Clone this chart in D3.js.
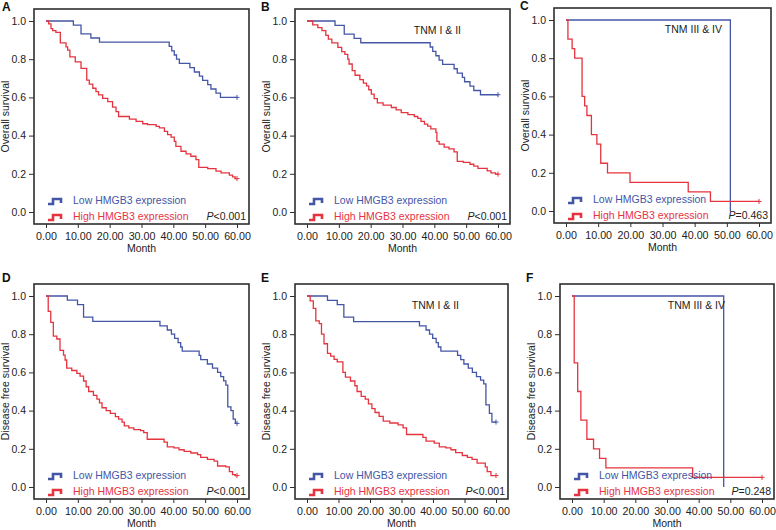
<!DOCTYPE html>
<html>
<head>
<meta charset="utf-8">
<script src="https://cdn.jsdelivr.net/npm/d3@7"></script>
<style>
  body { margin: 0; background: #fff; }
  svg text { font-family: "Liberation Sans", Arial, sans-serif; }
</style>
</head>
<body>
<div id="chart"></div>
<script>
// months on the x axis, survival fraction on y
var monthTicks = [0, 10, 20, 30, 40, 50, 60];
var survTicks = [0, 0.2, 0.4, 0.6, 0.8, 1.0];

var panelLetters = ["A", "B", "C", "D", "E", "F"];
var yTitles = ["Overall survival", "Overall survival", "Overall survival",
	"Disease free survival", "Disease free survival", "Disease free survival"];
var stageLabels = ["", "TNM I & II", "TNM III & IV", "", "TNM I & II", "TNM III & IV"];
var pLabels = ["<0.001", "<0.001", "=0.463", "<0.001", "<0.001", "=0.248"];
var legendLabels = ["Low HMGB3 expression", "High HMGB3 expression"];

// [month, survival after the step]
var lowA = [[0,1],[8.6,0.978],[11,0.933],[14.1,0.911],[16.8,0.889],[38.7,0.867],[39.5,0.844],[40.3,0.822],[41,0.8],[41.9,0.778],[45.2,0.756],[46.6,0.733],[48.2,0.711],[49.2,0.689],[50.8,0.667],[51.8,0.644],[53.4,0.622],[54.8,0.6],[60,0.6]];
var highA = [[0,1],[0.84,0.985],[1.57,0.96],[2.1,0.95],[3.1,0.94],[4.5,0.885],[6.3,0.865],[6.8,0.847],[7.5,0.812],[9.2,0.786],[11,0.752],[12.8,0.69],[13.6,0.67],[14.7,0.648],[15.7,0.63],[16.5,0.613],[17.8,0.595],[19.4,0.578],[20.9,0.549],[22,0.526],[22.8,0.5],[26.2,0.486],[28.3,0.474],[30.4,0.462],[31.9,0.457],[34.6,0.448],[35.6,0.44],[37.2,0.422],[38.2,0.405],[39.3,0.392],[40.3,0.37],[40.8,0.344],[42.4,0.318],[44,0.304],[45.5,0.292],[47.1,0.274],[48,0.234],[50.8,0.227],[53.4,0.214],[55,0.205],[57.6,0.193],[58.6,0.184],[59.4,0.175],[60,0.175]];
var lowB = [[0,1],[8.8,0.977],[11.7,0.931],[14.8,0.909],[16.9,0.886],[38.7,0.864],[39.5,0.841],[40.5,0.818],[41.5,0.795],[42.6,0.773],[46.2,0.75],[47.2,0.727],[48.8,0.705],[49.5,0.682],[51.2,0.659],[52.4,0.636],[54.5,0.614],[60,0.614]];
var highB = [[0,1],[1.8,0.98],[3.4,0.965],[4.7,0.95],[5.9,0.925],[6.7,0.905],[7.8,0.885],[9.7,0.862],[10.9,0.84],[11.9,0.825],[12.8,0.8],[13.2,0.775],[14.2,0.74],[15.1,0.716],[16.6,0.693],[17.7,0.675],[18.7,0.66],[19.4,0.64],[20.2,0.617],[21.1,0.594],[22.1,0.571],[23.9,0.56],[26.5,0.547],[28,0.535],[29.6,0.52],[31.7,0.51],[33.7,0.5],[34.8,0.49],[35.8,0.475],[36.9,0.46],[37.9,0.45],[38.9,0.435],[40.5,0.417],[40.8,0.37],[41.5,0.355],[43.1,0.34],[44.6,0.33],[46.2,0.315],[47.2,0.265],[49.1,0.26],[51.2,0.25],[52.4,0.24],[53.7,0.228],[56.6,0.215],[57.8,0.205],[59.2,0.198],[60,0.198]];
var lowC = [[0,1],[51.1,0]];
var highC = [[0,1],[0.6,0.9],[1.9,0.85],[2.7,0.8],[5,0.6],[5.8,0.55],[6.5,0.5],[7.9,0.4],[9.6,0.35],[10.8,0.25],[12.9,0.2],[19.9,0.15],[38,0.1],[44.9,0.05],[60,0.05]];
var lowD = [[0,1],[6.7,0.978],[9.9,0.955],[11.8,0.889],[14.7,0.867],[35.8,0.844],[38.1,0.822],[39.4,0.8],[40.4,0.778],[41.5,0.756],[42.3,0.733],[42.8,0.711],[48.1,0.689],[48.6,0.667],[50.7,0.644],[52.3,0.622],[53.9,0.6],[54.9,0.578],[55.8,0.556],[56.5,0.533],[57.1,0.42],[58.1,0.4],[58.8,0.355],[59.5,0.333],[60,0.333]];
var highD = [[0,1],[0.7,0.92],[1.5,0.862],[2.3,0.79],[3.4,0.775],[4.4,0.715],[5.5,0.69],[6,0.665],[6.5,0.622],[8.1,0.61],[9.7,0.595],[10.7,0.58],[11.8,0.555],[12.6,0.525],[13.4,0.5],[14.9,0.48],[16,0.46],[16.8,0.44],[17.6,0.415],[18.9,0.4],[20.2,0.385],[21.8,0.368],[22.8,0.355],[23.9,0.34],[24.6,0.32],[26,0.31],[27.6,0.3],[29.7,0.295],[30.7,0.285],[31.8,0.25],[37.1,0.235],[38.1,0.21],[40.2,0.205],[41.8,0.195],[43.4,0.187],[45.5,0.178],[47.6,0.17],[48.6,0.155],[50.7,0.145],[52.8,0.135],[53.9,0.11],[56.5,0.105],[57.6,0.08],[58.6,0.065],[59.5,0.06],[60,0.06]];
var lowE = [[0,1],[6.5,0.977],[9.6,0.955],[11.7,0.889],[14.8,0.866],[35.7,0.844],[37.8,0.822],[38.9,0.8],[39.9,0.778],[41,0.756],[41.7,0.733],[42.5,0.711],[47.8,0.689],[48.8,0.667],[49.8,0.644],[51.2,0.622],[52.5,0.6],[53.8,0.578],[55.1,0.56],[56.1,0.54],[56.8,0.43],[57.9,0.385],[58.7,0.34],[60,0.34]];
var highE = [[0,1],[1,0.975],[2,0.935],[2.8,0.87],[3.9,0.855],[4.6,0.8],[5.4,0.75],[6.5,0.7],[7.5,0.685],[8.6,0.668],[9.6,0.655],[11.4,0.6],[12.2,0.575],[13.8,0.555],[15.2,0.53],[15.9,0.5],[17.2,0.475],[18.5,0.46],[19.5,0.435],[20.6,0.41],[21.6,0.39],[22.9,0.37],[24.2,0.345],[26.3,0.335],[28.9,0.325],[30.5,0.31],[31.6,0.275],[36.8,0.26],[37.8,0.24],[40.4,0.23],[42,0.21],[44.1,0.205],[45.7,0.195],[47.2,0.18],[49.3,0.165],[50.9,0.155],[52.4,0.145],[54,0.125],[56.6,0.105],[57.2,0.08],[58.4,0.06],[60,0.06]];
var lowF = [[0,1],[47.9,0]];
var highF = [[0,1],[0.7,0.65],[1.8,0.5],[2.8,0.35],[4.7,0.25],[6.8,0.2],[8.7,0.15],[10.7,0.1],[38.1,0.05],[60,0.05]];

var lowCurves = [lowA, lowB, lowC, lowD, lowE, lowF];
var highCurves = [highA, highB, highC, highD, highE, highF];

var blue = "#4456a6";
var red = "#e5343f";
var boxColor = "#2e2e2e";

// where each panel box sits on the page
var boxSize = 215;
var pad = 12;
var boxes = [
	{left: 34, top: 9, w: 215}, {left: 295, top: 9, w: 215}, {left: 554, top: 8, w: 217},
	{left: 34, top: 284, w: 215}, {left: 295, top: 284, w: 213}, {left: 560, top: 284, w: 214}
];

var svg = d3.select("#chart")
	.append("svg")
	.attr("width", 776)
	.attr("height", 530);

boxes.forEach(function(b, i) {
	var g = svg.append("g")
		.attr("transform", `translate(${b.left}, ${b.top})`);

	var x = d3.scaleLinear().domain([0, 60]).range([pad, b.w - pad]);
	var y = d3.scaleLinear().domain([0, 1]).range([boxSize - pad, pad]);

	// axes sit just outside the frame
	var xAxis = g.append("g")
		.attr("transform", `translate(0, ${boxSize})`)
		.call(d3.axisBottom(x).tickValues(monthTicks).tickSize(4).tickPadding(4)
			.tickFormat(d3.format(".2f")));
	var yAxis = g.append("g")
		.call(d3.axisLeft(y).tickValues(survTicks).tickSize(5).tickPadding(3)
			.tickFormat(d3.format(".1f")));

	[xAxis, yAxis].forEach(function(a) {
		a.select(".domain").remove();
		a.selectAll("line").attr("stroke", boxColor);
		a.selectAll("text").attr("fill", "#222");
	});
	xAxis.selectAll("text").attr("font-size", 10.7);
	yAxis.selectAll("text").attr("font-size", 10.5);

	g.append("rect")
		.attr("width", b.w)
		.attr("height", boxSize)
		.attr("fill", "none")
		.attr("stroke", boxColor)
		.attr("stroke-width", 1.6);

	var line = d3.line()
		.x(d => x(d[0]))
		.y(d => y(d[1]))
		.curve(d3.curveStepAfter);

	[[lowCurves[i], blue], [highCurves[i], red]].forEach(function(c) {
		var pts = c[0];
		g.append("path")
			.attr("d", line(pts))
			.attr("fill", "none")
			.attr("stroke", c[1])
			.attr("stroke-width", 1.3);
		var last = pts[pts.length - 1];
		if (last[0] === 60) {
			var cx = x(last[0]), cy = y(last[1]);
			g.append("path")
				.attr("d", `M${cx - 2.5},${cy}H${cx + 2.5}M${cx},${cy - 2.5}V${cy + 2.5}`)
				.attr("stroke", c[1])
				.attr("stroke-width", 1);
		}
	});

	// legend
	[blue, red].forEach(function(col, k) {
		var base = boxSize - 20 + k * 16;
		g.append("path")
			.attr("d", `M14,${base}h5v-5h8v4`)
			.attr("fill", "none")
			.attr("stroke", col)
			.attr("stroke-width", 2.6);
		g.append("text")
			.attr("x", 39)
			.attr("y", base)
			.attr("font-size", 10.5)
			.attr("fill", col)
			.text(legendLabels[k]);
	});

	var pText = g.append("text")
		.attr("x", b.w - 3)
		.attr("y", boxSize - 4)
		.attr("text-anchor", "end")
		.attr("font-size", 10.5)
		.attr("fill", "#222");
	pText.append("tspan").attr("font-style", "italic").text("P");
	pText.append("tspan").text(pLabels[i]);

	if (stageLabels[i]) {
		g.append("text")
			.attr("x", b.w - 49)
			.attr("y", 25)
			.attr("text-anchor", "end")
			.attr("font-size", 10.5)
			.attr("fill", "#222")
			.text(stageLabels[i]);
	}

	g.append("text")
		.attr("x", b.w / 2)
		.attr("y", boxSize + 28)
		.attr("text-anchor", "middle")
		.attr("font-size", 10.5)
		.attr("fill", "#222")
		.text("Month");

	g.append("text")
		.attr("transform", `translate(-25, ${boxSize / 2}) rotate(-90)`)
		.attr("text-anchor", "middle")
		.attr("font-size", 10.5)
		.attr("fill", "#222")
		.text(yTitles[i]);

	g.append("text")
		.attr("x", i % 3 === 0 ? -32 : -34)
		.attr("y", i < 3 ? 2 : -2)
		.attr("font-size", 12)
		.attr("font-weight", "bold")
		.attr("fill", "#111")
		.text(panelLetters[i]);
});
</script>
</body>
</html>
